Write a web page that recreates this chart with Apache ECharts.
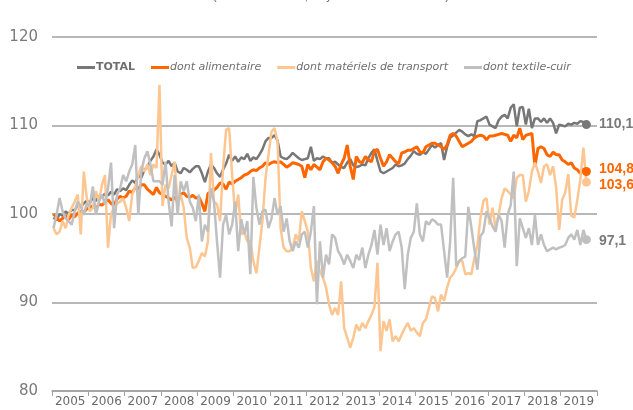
<!DOCTYPE html>
<html>
<head>
<meta charset="utf-8">
<script src="https://cdn.jsdelivr.net/npm/echarts@6/dist/echarts.min.js"></script>
<style>
html,body{margin:0;padding:0;background:#fff;}
#c{width:633px;height:410px;}
</style>
</head>
<body>
<div id="c"></div>
<script>
// ---- data ----
var years = ['2005','2006','2007','2008','2009','2010','2011','2012','2013','2014','2015','2016','2017','2018','2019'];
var seriesNames = ['TOTAL','dont alimentaire','dont matériels de transport','dont textile-cuir'];
var titleText = '(base 100 en 2005, moyenne mobile sur 3 mois)';

// monthly values, January 2005 → September 2019
var total = [
 99.6,99.3,100.0,99.8,100.3,100.0,100.5,100.4,101.0,100.8,101.2,101.5,
 101.3,101.8,101.5,102.0,101.9,102.3,102.1,102.5,102.2,102.8,102.6,102.9,
 102.7,103.3,103.8,103.5,104.4,104.1,105.0,105.3,106.0,106.5,107.3,106.7,
 105.8,105.6,106.0,105.4,105.8,104.8,104.6,105.2,105.0,104.7,105.1,105.4,
 105.4,104.6,103.6,104.8,105.6,105.2,104.6,104.2,105.0,105.7,106.7,106.0,
 106.5,105.9,106.4,106.2,106.8,106.0,106.4,106.2,106.7,107.3,108.2,108.6,
 108.6,108.9,108.3,106.5,106.3,106.2,106.5,106.9,106.6,106.3,106.1,106.2,
 106.3,107.6,106.0,106.3,106.2,106.5,106.3,106.3,105.8,105.9,105.6,105.3,
 105.2,105.8,106.2,105.5,105.3,105.4,105.6,105.5,106.3,106.9,107.3,106.0,
 104.8,104.6,104.8,105.0,105.2,105.6,105.4,105.5,105.7,106.2,106.6,107.1,
 106.8,106.7,107.0,106.8,107.3,107.8,107.5,107.8,108.0,106.1,107.6,108.6,
 108.9,109.2,109.5,109.3,109.0,108.8,109.0,108.8,110.5,110.6,110.8,111.0,
 110.1,109.9,109.7,110.6,111.0,111.2,110.8,112.0,112.4,109.9,112.0,112.1,
 110.1,111.9,109.7,110.8,110.8,110.4,110.8,110.3,110.8,110.3,109.1,110.1,
 110.0,109.9,110.2,110.1,110.3,110.2,110.5,110.4,110.1
];
var alimentaire = [
 100.0,99.6,99.2,99.5,99.8,99.4,99.9,99.7,100.1,100.3,100.2,100.6,
 100.7,100.9,100.6,101.1,101.0,101.3,101.6,101.2,101.0,101.7,102.0,101.8,
 102.0,102.6,102.4,103.0,102.8,103.3,103.3,102.8,102.5,102.2,103.0,102.4,
 102.2,102.0,101.8,101.6,101.9,101.4,102.2,102.4,102.0,101.9,102.1,101.8,
 101.9,101.2,100.3,102.3,102.5,102.7,103.0,103.5,103.4,102.8,103.6,103.4,
 103.7,103.9,104.1,104.4,104.5,104.8,105.0,104.9,105.2,105.4,105.8,105.6,
 105.8,105.9,105.8,105.9,105.6,105.3,105.5,105.8,105.7,105.6,105.4,104.1,
 105.6,105.0,105.6,105.3,105.0,105.9,106.3,106.1,105.8,105.4,104.6,105.6,
 106.3,107.8,105.4,103.9,106.5,105.9,105.8,106.5,106.1,105.9,107.1,107.3,
 106.3,105.4,105.9,106.7,106.3,105.9,105.7,106.9,107.0,107.2,107.2,107.4,
 107.6,107.0,106.9,107.6,107.8,108.0,108.0,107.8,107.6,107.3,107.8,108.9,
 109.1,108.8,108.2,107.6,107.8,108.0,108.2,108.6,108.8,108.9,108.8,108.4,
 108.8,108.8,108.9,109.0,109.1,109.0,108.9,108.2,108.9,108.6,109.7,108.4,
 108.9,109.0,109.1,105.4,107.4,107.6,107.4,106.7,106.5,107.0,106.7,106.7,
 106.1,105.9,105.6,105.8,105.2,105.0,104.6,105.1,104.8
];
var transport = [
 98.4,97.7,98.0,99.2,98.4,99.9,100.7,101.4,102.2,97.7,104.8,101.8,
 100.3,100.7,102.6,101.4,103.3,104.4,96.2,100.0,100.7,101.2,101.4,101.8,
 100.7,99.2,102.2,103.1,104.4,105.4,104.8,105.6,104.4,105.6,105.2,114.6,
 100.9,103.3,102.9,104.4,105.9,101.1,102.2,100.7,97.3,96.2,93.9,94.0,
 94.7,95.6,95.2,96.9,106.9,101.4,101.1,99.2,105.2,109.5,109.7,104.4,
 99.9,102.2,97.7,98.0,96.9,96.9,94.7,93.3,96.2,99.2,104.0,106.7,
 109.3,109.7,108.2,98.4,96.2,95.8,95.8,96.2,97.7,96.9,100.3,99.2,
 98.0,93.9,92.4,94.7,93.5,92.8,91.7,89.8,88.6,89.4,88.6,92.4,
 87.1,86.0,84.9,86.0,87.5,86.8,87.7,87.1,87.9,88.6,89.5,94.5,
 84.5,87.9,86.8,88.1,85.6,86.2,85.6,86.4,87.1,87.7,86.8,87.1,
 86.6,86.2,87.7,88.1,89.4,90.7,90.5,89.0,90.9,90.2,91.7,92.8,
 93.2,93.9,94.7,94.7,93.2,93.3,93.2,95.0,96.5,99.5,101.5,101.8,
 98.8,100.7,98.4,99.9,101.8,102.9,102.6,102.2,101.8,104.1,104.4,104.4,
 101.4,102.6,104.8,105.8,104.8,103.5,105.4,105.6,104.4,105.4,103.0,98.2,
 101.6,102.4,104.5,99.8,99.6,101.6,103.9,107.5,103.6
];
var textile = [
 98.4,99.9,101.8,100.3,99.5,99.2,98.8,100.3,101.4,100.9,99.9,101.2,
 100.9,103.1,99.9,101.4,102.2,101.1,102.9,105.8,98.4,102.2,102.9,104.4,
 103.7,104.8,105.6,107.8,99.9,104.8,106.3,107.1,105.6,103.7,103.7,103.7,
 103.3,105.9,101.4,98.6,104.4,99.9,103.7,102.6,103.7,101.4,100.7,99.2,
 102.2,96.9,98.8,98.0,102.9,101.4,96.9,92.8,98.8,99.9,97.7,98.8,
 101.4,95.8,99.4,97.7,99.2,93.2,104.2,100.7,98.8,100.3,100.5,98.4,
 99.5,101.8,99.9,100.9,98.0,99.5,96.9,95.8,96.9,96.2,97.7,98.0,
 96.2,98.0,100.9,89.8,96.9,92.8,95.4,94.3,97.7,97.3,95.8,95.2,
 94.3,95.4,94.7,93.9,95.4,94.8,96.2,93.9,95.4,96.5,98.2,95.4,
 98.8,96.5,98.4,95.8,96.9,97.7,98.0,96.2,91.5,95.4,97.3,98.0,
 101.2,97.7,96.9,99.2,98.8,99.4,99.2,98.8,98.8,95.8,92.8,96.9,
 104.1,94.1,94.7,95.0,95.2,100.8,98.5,96.0,93.7,97.5,98.0,100.3,
 99.5,98.6,98.0,99.9,99.2,96.2,99.9,101.0,104.8,94.1,99.5,98.4,
 97.3,98.4,96.5,99.9,96.5,97.7,96.5,95.8,96.0,96.2,96.0,96.2,
 96.3,96.5,97.3,97.7,97.1,98.2,96.5,98.2,97.1
];
var yTicks = [80, 90, 100, 110, 120];

// ---- build ----
var months = [];
years.forEach(function (y) { for (var m = 1; m <= 12; m++) months.push(y + '-' + (m < 10 ? '0' + m : m)); });

var colors = ['#777777', '#ff6600', '#fdc691', '#c0c0c0'];
var labelColors = ['#7a7a7a', '#ff6600', '#ff6600', '#7a7a7a'];
var widths = [2.5, 3, 2.5, 2.5];
var labelOffsets = [[0, 0], [0, -2], [0, 3], [0, 1]];
var datasets = [total, alimentaire, transport, textile];

function fmt(v) { return v.toFixed(1).replace('.', ','); }

var series = datasets.map(function (d, i) {
  var last = d.length - 1;
  return {
    name: seriesNames[i],
    type: 'line',
    xAxisIndex: 0,
    data: d,
    symbol: 'none',
    showSymbol: false,
    smooth: false,
    color: colors[i],
    itemStyle: { color: colors[i] },
    lineStyle: { color: colors[i], width: widths[i] },
    markPoint: {
      symbol: 'circle',
      symbolSize: 9,
      itemStyle: { color: colors[i] },
      label: {
        show: true,
        position: 'right',
        distance: 8,
        offset: labelOffsets[i],
        color: labelColors[i],
        fontFamily: 'Liberation Sans',
        fontWeight: 'bold',
        fontSize: 14,
        formatter: fmt(d[last])
      },
      data: [{ coord: [months[last], d[last]], value: d[last] }]
    },
    animation: false
  };
});

var chart = echarts.init(document.getElementById('c'), null, { renderer: 'canvas' });
chart.setOption({
  animation: false,
  backgroundColor: '#ffffff',
  graphic: [{
    type: 'text',
    x: 213,
    y: -9,
    silent: true,
    style: {
      text: titleText,
      font: '11px "Liberation Sans"',
      fill: '#595959'
    }
  }],
  legend: {
    data: seriesNames,
    left: 72,
    top: 57,
    icon: 'rect',
    itemWidth: 18,
    itemHeight: 3,
    itemGap: 16,
    formatter: function (n) { return n === 'TOTAL' ? '{b|' + n + '}' : '{i|' + n + '}'; },
    textStyle: {
      color: '#6f6f6f',
      fontFamily: 'DejaVu Sans',
      fontSize: 11,
      padding: [0, 0, 0, -4],
      rich: {
        b: { fontWeight: 'bold', fontFamily: 'DejaVu Sans', fontSize: 11, color: '#6f6f6f' },
        i: { fontStyle: 'italic', fontFamily: 'DejaVu Sans', fontSize: 11, color: '#6f6f6f' }
      }
    }
  },
  grid: { left: 52, right: 36, top: 37, bottom: 19, containLabel: false },
  xAxis: [
    {
      type: 'category',
      data: months,
      boundaryGap: true,
      show: false
    },
    {
      type: 'category',
      data: years,
      position: 'bottom',
      boundaryGap: true,
      axisLine: { show: true, lineStyle: { color: '#a0a0a0', width: 1.5 } },
      axisTick: { show: true, interval: 0, length: 5, lineStyle: { color: '#a0a0a0', width: 1 } },
      axisLabel: { interval: 0, margin: 5, color: '#6a6a6a', fontFamily: 'DejaVu Sans', fontSize: 12 },
      splitLine: { show: false }
    }
  ],
  yAxis: {
    type: 'value',
    min: yTicks[0],
    max: yTicks[yTicks.length - 1],
    interval: 10,
    axisLine: { show: false },
    axisTick: { show: false },
    axisLabel: { margin: 14, color: '#7a7a7a', fontFamily: 'DejaVu Sans', fontSize: 15 },
    splitLine: { show: true, lineStyle: { color: '#a0a0a0', width: 1.5 } }
  },
  series: series
});
</script>
</body>
</html>
